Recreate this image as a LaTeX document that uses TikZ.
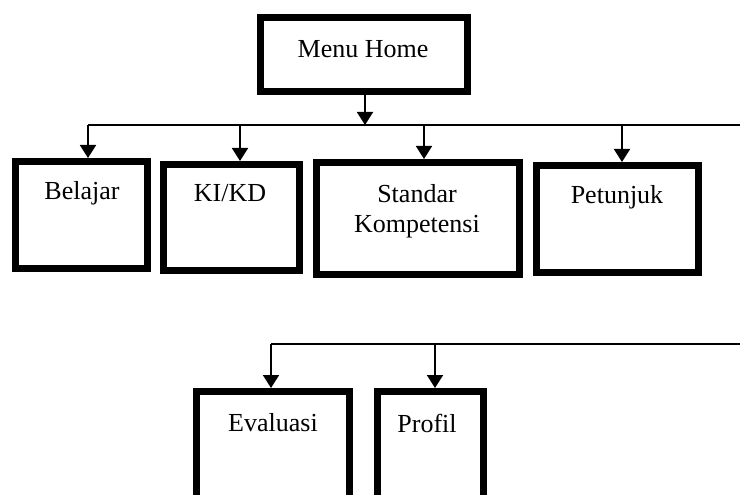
\documentclass[tikz,border=0pt]{standalone}
\usepackage{fontspec}
\setmainfont{Liberation Serif}
\usetikzlibrary{arrows.meta}
\begin{document}
\begin{tikzpicture}[x=1pt,y=-1pt,
  box/.style={draw=black,line width=7pt,rectangle,inner sep=0pt,fill=white},
  lbl/.style={font=\fontsize{26}{30}\selectfont,inner sep=0pt,align=center},
  conn/.style={line width=1.8pt,black},
  arr/.style={conn,-{Triangle[width=16pt,length=13pt]}}]
\useasboundingbox (0,0) rectangle (740,495);
\clip (0,0) rectangle (740,495);
% boxes
\node[box,minimum width=207pt,minimum height=74pt] (home) at (364,54.5) {};
\node[box,minimum width=132pt,minimum height=107pt] (belajar) at (81.5,215) {};
\node[box,minimum width=136pt,minimum height=106pt] (kikd) at (231.5,217.5) {};
\node[box,minimum width=203pt,minimum height=112pt] (standar) at (418,218.5) {};
\node[box,minimum width=162pt,minimum height=107pt] (petunjuk) at (617.5,219) {};
\node[box,minimum width=153pt,minimum height=170pt] (evaluasi) at (273,476.5) {};
\node[box,minimum width=106pt,minimum height=170pt] (profil) at (430.5,476.5) {};
% labels
\node[lbl] (thome) at (363,49) {Menu Home};
\node[lbl] (tbelajar) at (82,193) {Belajar};
\node[lbl] (tkikd) at (230,193) {KI/KD};
\node[lbl] (tstandar) at (417,211) {Standar\\Kompetensi};
\node[lbl] (tpetunjuk) at (617,197) {Petunjuk};
\node[lbl] (tevaluasi) at (273,423) {Evaluasi};
\node[lbl] (tprofil) at (427,423) {Profil};
% top bus
\coordinate (j0) at (365,125);
\coordinate (bl) at (88,125);
\coordinate (br) at (741,125);
\coordinate (b2) at (240,125);
\coordinate (b3) at (424,125);
\coordinate (b4) at (622,125);
\draw[conn] (bl) -- (br);
\draw[arr] (home.south -| j0) -- (j0);
\draw[arr] (bl) -- (bl |- belajar.north);
\draw[arr] (b2) -- (b2 |- kikd.north);
\draw[arr] (b3) -- (b3 |- standar.north);
\draw[arr] (b4) -- (b4 |- petunjuk.north);
% bottom bus
\coordinate (cl) at (271,344);
\coordinate (cr) at (741,344);
\coordinate (c2) at (435,344);
\draw[conn] (cl) -- (cr);
\draw[arr] (cl) -- (cl |- evaluasi.north);
\draw[arr] (c2) -- (c2 |- profil.north);
\end{tikzpicture}
\end{document}
